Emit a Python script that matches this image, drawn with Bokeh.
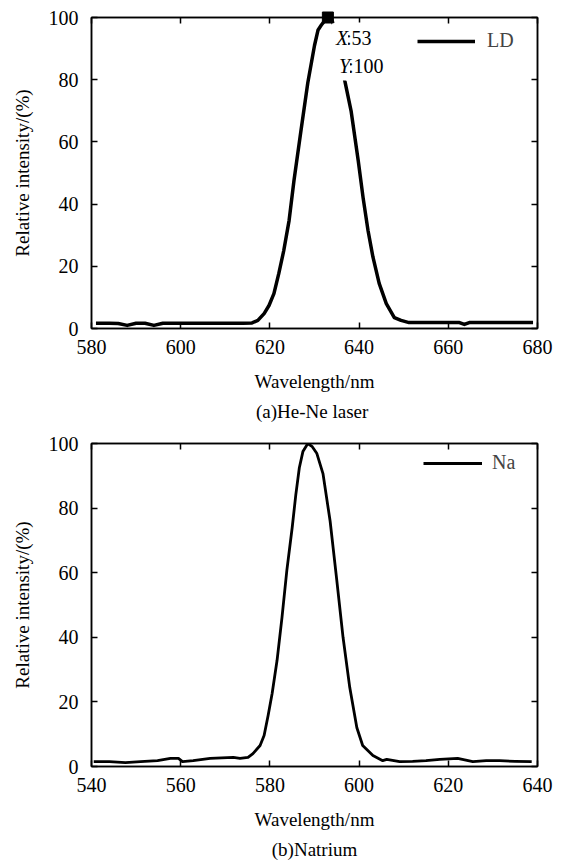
from bokeh.plotting import figure
from bokeh.models import (Range1d, FixedTicker, LinearAxis, Legend, LegendItem,
                          Label, Title, CustomJSTickFormatter)
from bokeh.layouts import column
from bokeh.embed import file_html
from bokeh.resources import INLINE

FONT = "Liberation Serif"

# ---- data: (a) He-Ne laser, series "LD" ----
ld_wavelength = [581, 584, 586, 588, 590, 592, 594, 596, 600, 605, 610, 614, 616,
                 617.3, 618.7, 619.8, 620.9, 622.0, 623.1, 624.3, 625.4, 627.0,
                 628.5, 630.0, 630.8, 631.5, 632.3, 633.0, 633.8, 634.6, 635.5,
                 636.6, 638.2, 639.8, 640.9, 642.0, 643.1, 644.5, 646.1, 647.9,
                 649.4, 651.2, 655, 660, 662.5, 663.6, 664.7, 667, 672, 676, 679]
ld_intensity = [1.7, 1.7, 1.6, 1.0, 1.7, 1.7, 1.0, 1.7, 1.7, 1.7, 1.7, 1.7, 1.8,
                2.6, 4.8, 7.4, 11.2, 17.7, 25.0, 34.7, 47.6, 64.0,
                79.0, 91.0, 96.0, 97.5, 99.0, 100.0, 99.2, 97.0, 91.0,
                81.0, 70.0, 54.0, 42.0, 31.5, 23.0, 14.5, 8.0, 3.5,
                2.6, 1.9, 1.9, 1.9, 1.9, 1.3, 1.9, 1.9, 1.9, 1.9, 1.9]
ld_x_ticks = [580, 600, 620, 640, 660, 680]
peak_x = [633.0]
peak_y = [100.0]
peak_index = "53"
peak_value = "100"

# ---- data: (b) Natrium, series "Na" ----
na_wavelength = [540.5, 544, 547.6, 551, 554.8, 557.7, 559.5, 560.4, 562.8, 566.6,
                 571.8, 573.3, 575.1, 576.2, 577.8, 578.7, 579.6, 580.5, 581.6,
                 582.7, 583.8, 585.0, 585.8, 586.6, 587.4, 588.5, 589.5, 590.5,
                 591.9, 593.5, 595.0, 596.4, 597.9, 599.5, 600.8, 603.1, 605.3,
                 606.2, 609.1, 612, 615, 618.1, 622.1, 625.5, 628.5, 631.5, 635,
                 638.7]
na_intensity = [1.5, 1.5, 1.2, 1.5, 1.8, 2.5, 2.5, 1.5, 1.8, 2.5,
                2.8, 2.5, 2.8, 4.0, 6.5, 9.6, 15.8, 22.6, 32.8,
                46.0, 60.7, 74.0, 84.0, 92.5, 97.5, 100.0, 99.0, 97.0,
                90.7, 76.0, 57.6, 40.0, 24.5, 12.0, 6.5, 3.4, 1.8,
                2.2, 1.5, 1.6, 1.8, 2.2, 2.5, 1.5, 1.8, 1.8, 1.6,
                1.5]
na_x_ticks = [540, 560, 580, 600, 620, 640]

y_ticks = [0, 20, 40, 60, 80, 100]


def style_axis(ax, ticks, show_labels=True):
    ax.ticker = FixedTicker(ticks=ticks)
    ax.major_tick_in = 6
    ax.major_tick_out = 0
    ax.major_tick_line_width = 1.5
    ax.minor_tick_line_color = None
    ax.axis_line_width = 1.5
    ax.axis_line_color = "black"
    ax.major_label_text_font = FONT
    ax.major_label_text_font_size = "20px"
    ax.major_label_text_color = "black"
    ax.axis_label_text_font = FONT
    ax.axis_label_text_font_size = "19px"
    ax.axis_label_text_font_style = "normal"
    ax.axis_label_text_color = "black"
    if not show_labels:
        ax.formatter = CustomJSTickFormatter(code="return ''")
        ax.major_label_standoff = 0


def make_fig(x_start, x_end, x_ticks, frame_h, b_top, b_bottom, caption):
    p = figure(frame_width=446, frame_height=frame_h,
               x_range=Range1d(x_start, x_end), y_range=Range1d(0, 100),
               output_backend="svg", toolbar_location=None,
               min_border_left=91, min_border_right=20,
               min_border_top=b_top, min_border_bottom=b_bottom)
    p.grid.visible = False
    p.outline_line_color = "black"
    p.outline_line_width = 1.5
    p.background_fill_color = "white"
    p.border_fill_color = "white"

    style_axis(p.xaxis[0], x_ticks)
    p.xaxis[0].axis_label = "Wavelength/nm"
    p.xaxis[0].major_label_standoff = 11
    p.xaxis[0].axis_label_standoff = 14
    style_axis(p.yaxis[0], y_ticks)
    p.yaxis[0].axis_label = "Relative intensity/(%)"
    p.yaxis[0].major_label_standoff = 13
    p.yaxis[0].axis_label_standoff = 13

    top_ax = LinearAxis()
    style_axis(top_ax, x_ticks, show_labels=False)
    p.add_layout(top_ax, "above")
    right_ax = LinearAxis()
    style_axis(right_ax, y_ticks, show_labels=False)
    p.add_layout(right_ax, "right")

    p.add_layout(Title(text=caption, align="center", text_font=FONT,
                       text_font_size="19px", text_font_style="normal",
                       text_color="black", standoff=8), "below")
    return p


# ---- top panel ----
p1 = make_fig(580, 680, ld_x_ticks, 311, 17, 104, "(a)He-Ne  laser")
r1 = p1.line(ld_wavelength, ld_intensity, line_color="black", line_width=3.5,
             line_join="round")
leg1 = Legend(items=[LegendItem(label="LD", renderers=[r1])], location=(326, 276),
              glyph_width=58, glyph_height=20, label_standoff=12, padding=0,
              margin=0, border_line_color=None, background_fill_alpha=0,
              label_text_font=FONT, label_text_font_size="20px")
p1.add_layout(leg1)

common = dict(text_font=FONT, text_font_size="20px", text_color="black",
              text_baseline="middle", background_fill_color="white")
pad_letter = dict(left=4, right=0, top=4, bottom=4)
pad_value = dict(left=2, right=3, top=4, bottom=4)
# value parts first, italic letters drawn on top of them
p1.add_layout(Label(x=peak_x[0], y=peak_y[0], x_offset=16, y_offset=-20,
                    text=":" + peak_index, padding=pad_value, **common))
p1.add_layout(Label(x=peak_x[0], y=peak_y[0], x_offset=18, y_offset=-48,
                    text=":" + peak_value, padding=pad_value, **common))
p1.add_layout(Label(x=peak_x[0], y=peak_y[0], x_offset=4, y_offset=-20, text="X",
                    text_font_style="italic", padding=pad_letter, **common))
p1.add_layout(Label(x=peak_x[0], y=peak_y[0], x_offset=7, y_offset=-48, text="Y",
                    text_font_style="italic", padding=pad_letter, **common))
p1.scatter(peak_x, peak_y, marker="square", size=11, color="black", level="overlay")

# ---- bottom panel ----
p2 = make_fig(540, 640, na_x_ticks, 323, 11, 96, "(b)Natrium")
r2 = p2.line(na_wavelength, na_intensity, line_color="black", line_width=2.8,
             line_join="round")
leg2 = Legend(items=[LegendItem(label="Na", renderers=[r2])], location=(332, 292),
              glyph_width=59, glyph_height=20, label_standoff=10, padding=0,
              margin=0, border_line_color=None, background_fill_alpha=0,
              label_text_font=FONT, label_text_font_size="20px")
p2.add_layout(leg2)

layout = column(p1, p2, spacing=0)
open("out.html", "w").write(file_html(layout, INLINE))
